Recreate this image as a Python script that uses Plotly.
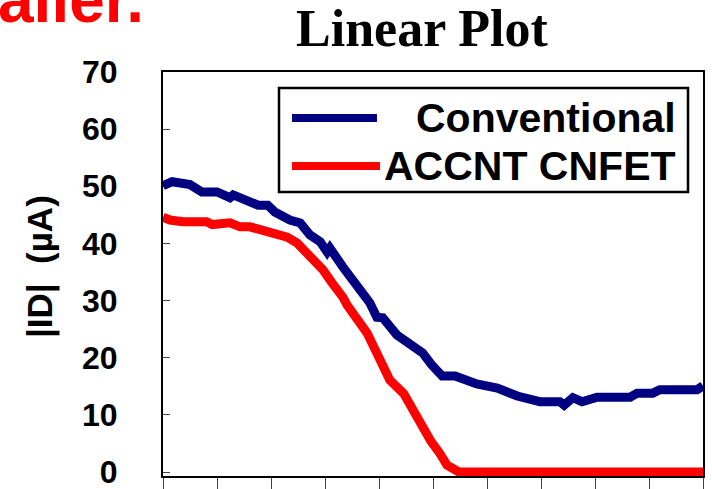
import plotly.graph_objects as go

# Data (x axis: 10 equal divisions, unlabeled)
conv_x = [0, 0.17, 0.50, 0.72, 1.00, 1.24, 1.30, 1.61, 1.76, 1.94, 2.07, 2.35, 2.54, 2.72,
          2.91, 3.04, 3.09, 3.33, 3.59, 3.83, 3.96, 4.07, 4.33, 4.63, 4.81, 4.98, 5.17,
          5.41, 5.81, 6.19, 6.56, 6.98, 7.35, 7.43, 7.59, 7.76, 8.04, 8.65, 8.78, 9.07,
          9.20, 9.89, 10.0]
conv_y = [50.1, 50.8, 50.3, 49.0, 49.0, 48.0, 48.5, 47.3, 46.7, 46.7, 45.5, 44.1, 43.6, 41.5,
          40.3, 38.5, 39.2, 35.9, 32.4, 29.6, 27.1, 27.0, 24.0, 22.2, 20.8, 18.7, 16.8,
          16.8, 15.4, 14.7, 13.3, 12.3, 12.3, 11.7, 13.0, 12.3, 13.1, 13.1, 13.8, 13.8,
          14.4, 14.4, 15.1]

accnt_x = [0, 0.13, 0.37, 0.81, 0.91, 1.24, 1.43, 1.61, 1.80, 2.11, 2.30, 2.48, 2.72, 2.96,
           3.13, 3.22, 3.33, 3.41, 3.59, 3.78, 3.96, 4.20, 4.46, 4.63, 4.80, 4.96, 5.13,
           5.26, 5.48, 6, 7, 8, 9, 10]
accnt_y = [44.6, 44.1, 43.8, 43.8, 43.3, 43.6, 42.9, 42.9, 42.4, 41.5, 41.1, 40.1, 38.0, 35.4,
           33.1, 32.2, 30.6, 29.2, 27.1, 24.3, 20.8, 16.1, 13.7, 10.7, 7.7, 5.4, 3.2,
           1.2, 0, 0, 0, 0, 0, 0]

series_names = ["Conventional", "ACCNT CNFET"]
series_colors = ["#000080", "#ff0000"]
y_ticks = [0, 10, 20, 30, 40, 50, 60, 70]

fig = go.Figure()
fig.add_trace(go.Scatter(x=conv_x, y=conv_y, mode="lines", name=series_names[0],
                         line=dict(color=series_colors[0], width=9), showlegend=False))
fig.add_trace(go.Scatter(x=accnt_x, y=accnt_y, mode="lines", name=series_names[1],
                         line=dict(color=series_colors[1], width=9), showlegend=False))

bold_sans = "Liberation Sans, Arial, sans-serif"

# plot area: x 163..703, y 72..476 (pixels)
L, R, T, B = 163, 703, 72, 476
def px(x):
    return (x - L) / (R - L)
def py(y):
    return (B - y) / (B - T)

fig.update_layout(
    width=712, height=489, autosize=False,
    margin=dict(l=L, r=712 - R, t=T, b=489 - B, pad=0),
    paper_bgcolor="white", plot_bgcolor="white",
    showlegend=False,
    xaxis=dict(range=[0, 10], dtick=1, tick0=0, showticklabels=False,
               ticks="outside", ticklen=13, tickwidth=1.2, tickcolor="#444",
               showgrid=False, zeroline=False, showline=True, linecolor="black",
               linewidth=2, mirror=True, automargin=False, layer="below traces"),
    yaxis=dict(range=[-0.7, 70], tickvals=y_ticks, ticktext=[str(v) for v in y_ticks],
               ticks="inside", ticklen=7, tickwidth=1.2, tickcolor="#444",
               ticklabelstandoff=37, ticklabeloverflow="allow",
               tickfont=dict(family=bold_sans, size=32, color="black", weight="bold"),
               showgrid=False, zeroline=False, showline=True, linecolor="black",
               linewidth=2, mirror=True, automargin=False, layer="below traces"),
)

ann = []
# Title
ann.append(dict(text="<b>Linear Plot</b>", xref="paper", yref="paper",
                x=px(422), y=py(29), xanchor="center", yanchor="middle", showarrow=False,
                font=dict(family="Liberation Serif, Times New Roman, serif", size=52,
                          color="black")))
# Y axis title
ann.append(dict(text="<b>|ID|  (µA)</b>", xref="paper", yref="paper",
                x=px(40), y=py(267), xanchor="center", yanchor="middle",
                textangle=-90, showarrow=False,
                font=dict(family=bold_sans, size=35, color="black")))
# Cropped red text at top-left (partly outside the picture, as in the reference)
ann.append(dict(text="<b>aller.</b>", xref="paper", yref="paper",
                x=px(146), y=py(0), xanchor="right", yanchor="middle",
                showarrow=False,
                font=dict(family=bold_sans, size=64, color="#ff0000")))
# Manual legend text (right aligned, as in the reference)
legend_y = [py(118), py(166)]
for name, ly in zip(series_names, legend_y):
    ann.append(dict(text="<b>" + name + "</b>", xref="paper", yref="paper",
                    x=px(678), y=ly, xanchor="right", yanchor="middle",
                    showarrow=False,
                    font=dict(family=bold_sans, size=41, color="black")))
fig.update_layout(annotations=ann)

shapes = [dict(type="rect", xref="paper", yref="paper",
               x0=px(279), x1=px(688), y0=py(192), y1=py(88),
               line=dict(color="black", width=2.5), fillcolor="white", layer="above")]
sample_x1 = [px(377), px(380)]
for col, ly, x1 in zip(series_colors, legend_y, sample_x1):
    shapes.append(dict(type="line", xref="paper", yref="paper",
                       x0=px(292), x1=x1, y0=ly, y1=ly,
                       line=dict(color=col, width=8), layer="above"))
fig.update_layout(shapes=shapes)

fig.write_html("out.html")
